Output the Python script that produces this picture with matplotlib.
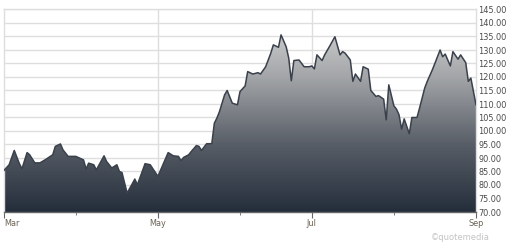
import numpy as np
import matplotlib
matplotlib.use("Agg")
import matplotlib.pyplot as plt
from matplotlib.colors import LinearSegmentedColormap
from matplotlib.patches import Polygon

# days since Mar 1 and closing prices
days = [0, 2, 4, 6, 7, 9, 10, 12, 14, 16, 19, 20, 22, 23, 25, 28, 31, 32, 33, 35,
        36, 39, 40, 42, 44, 45, 46, 48, 51, 52, 55, 57, 60, 64, 66, 68, 69, 70, 72, 73,
        75, 76, 77, 79, 81, 82, 83, 84, 86, 87, 89, 91, 92, 94, 95, 97, 99, 100, 102, 104,
        105, 107, 108, 110, 111, 112, 113, 115, 117, 119, 120, 121, 122, 124, 125, 127, 129, 131, 132, 133,
        135, 136, 137, 139, 140, 142, 143, 145, 146, 148, 149, 150, 152, 153, 154, 155, 156, 158, 159, 161,
        162, 164, 165, 167, 168, 170, 171, 172, 174, 175, 177, 178, 180, 181, 182, 184]
prices = [85.4, 87.5, 92.8, 87.9, 86.0, 92.0, 91.2, 88.2, 88.2, 89.3, 91.2, 94.3, 95.2, 93.0, 90.6, 90.6, 89.3, 85.9, 88.1, 87.5,
          85.6, 90.8, 88.7, 86.3, 87.5, 85.0, 84.6, 77.0, 82.2, 80.1, 87.9, 87.5, 83.2, 92.0, 90.8, 90.6, 89.0, 90.2, 91.2, 92.4,
          94.6, 94.3, 92.8, 95.3, 95.3, 102.9, 104.8, 107.2, 113.4, 115.0, 110.3, 109.7, 114.6, 116.7, 122.0, 121.1, 121.6, 121.1, 123.8, 128.8,
          131.9, 131.0, 135.6, 131.2, 127.0, 118.6, 126.1, 126.3, 123.8, 123.8, 124.1, 123.0, 128.2, 126.1, 128.2, 131.5, 134.9, 128.2, 129.4, 128.8,
          126.3, 118.4, 121.1, 118.4, 123.8, 122.9, 115.0, 112.8, 113.1, 111.8, 104.1, 117.1, 109.3, 108.1, 106.0, 100.7, 104.5, 99.0, 105.0, 105.0,
          108.5, 115.9, 118.4, 122.7, 125.1, 130.0, 127.5, 128.5, 124.1, 129.4, 126.6, 128.2, 125.3, 118.4, 119.6, 109.7]

month_pos = [0, 28, 60, 92, 120, 152, 184]
month_labels = ["Mar", "", "May", "", "Jul", "", "Sep"]
y_ticks = list(range(70, 146, 5))

fig = plt.figure(figsize=(5.08, 2.45), dpi=100)
ax = fig.add_axes([4 / 508, 33 / 245, 472 / 508, 202.5 / 245])
ax.set_xlim(0, 184)
ax.set_ylim(70, 145)

# vertical gradient clipped to the area under the line
cmap = LinearSegmentedColormap.from_list("g", ["#242e3b", "#585e67", "#a3a5a8", "#dcdddd"])
grad = np.linspace(0, 1, 256).reshape(-1, 1)
img = ax.imshow(grad, cmap=cmap, aspect="auto", origin="lower",
                extent=[0, 184, 70, 145], zorder=2)
verts = [(days[0], 70)] + list(zip(days, prices)) + [(days[-1], 70)]
clip = Polygon(verts, closed=True, transform=ax.transData, facecolor="none", edgecolor="none")
ax.add_patch(clip)
img.set_clip_path(clip)
ax.plot(days, prices, color="#3a414b", lw=1.1, zorder=3)

# grid
for y in y_ticks:
    ax.axhline(y, color="#dedede", lw=1.0, zorder=1)
for x in (60, 120):
    ax.axvline(x, color="#dedede", lw=1.0, zorder=1)

ax.yaxis.tick_right()
ax.set_yticks(y_ticks)
ax.set_yticklabels([f"{v:.2f}" for v in y_ticks], fontsize=5.9, color="#4a4a4a")
ax.tick_params(axis="y", length=0, pad=1.5)

ax.set_xticks([month_pos[i] for i in (0, 2, 4, 6)])
ax.set_xticklabels([month_labels[i] for i in (0, 2, 4, 6)], fontsize=5.9, color="#6a6255")
ax.set_xticks([month_pos[i] for i in (1, 3, 5)], minor=True)
ax.tick_params(axis="x", which="major", length=4, color="#666666", pad=1)
ax.tick_params(axis="x", which="minor", length=2, color="#666666")
ax.get_xticklabels()[0].set_ha("left")
ax.get_xticklabels()[0].set_x(-0.5)

for s in ("left", "top", "right"):
    ax.spines[s].set_color("#dedede")
    ax.spines[s].set_linewidth(1.0)
ax.spines["bottom"].set_color("#666666")
ax.spines["bottom"].set_linewidth(1.0)

fig.text(490 / 508, 1 - 237 / 245, "\u00a9quotemedia", fontsize=6, color="#c4c4c4",
         ha="right", va="center")

fig.savefig("out.png", dpi=100)
